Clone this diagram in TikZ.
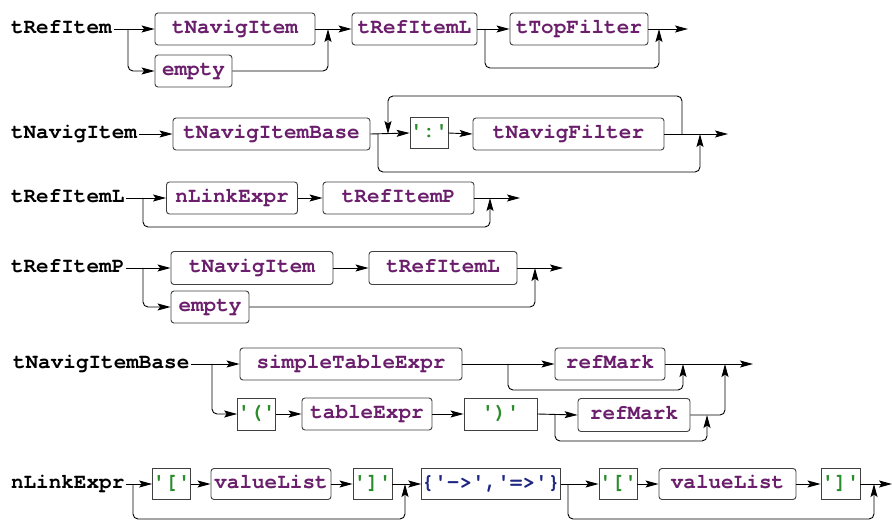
\documentclass[tikz,border=0pt]{standalone}
\usepackage{fontspec}
\newfontfamily\railfont{texgyrecursor}[Extension=.otf, UprightFont=*-regular,
  BoldFont=*-bold, Ligatures=ResetAll]
\usetikzlibrary{arrows.meta}
\definecolor{ntcol}{HTML}{6A1E6C}
\definecolor{tmcol}{HTML}{2A8C2A}
\definecolor{opcol}{HTML}{1E2882}
\definecolor{boxcol}{HTML}{404040}
\newcommand\sq{\symbol{39}}
\begin{document}
\begin{tikzpicture}[x=1pt,y=-1pt,
  every node/.style={font=\railfont\bfseries\fontsize{21}{21}\selectfont,
    inner sep=0pt, text height=13pt, text depth=4pt},
  rulelbl/.style={anchor=west, text=black, outer xsep=2pt},
  ntbox/.style={draw=boxcol, line width=0.9pt, rounded corners=3pt, fill=white,
    text=ntcol, minimum height=32pt},
  tmbox/.style={draw=boxcol, line width=0.9pt, fill=white,
    text=tmcol, minimum height=31pt},
  opbox/.style={tmbox, text=opcol},
  conn/.style={line width=0.9pt, draw=black},
  arr/.style={conn, -{Stealth[length=13pt,width=7pt,inset=2.5pt]}},
  rc/.style={rounded corners=5pt}]
\useasboundingbox (0,0) rectangle (892,521);

% ---------- tRefItem ----------
\node[rulelbl] (lRefItem) at (9,29) {tRefItem};
\node[ntbox, minimum width=160] (nNav1) at (235,29) {tNavigItem};
\node[ntbox, minimum width=77] (nEmpty1) at (193.5,71) {empty};
\node[ntbox, minimum width=125] (nRefL1) at (414.5,29) {tRefItemL};
\node[ntbox, minimum width=138] (nTop) at (579,29) {tTopFilter};
\coordinate (b1) at (128,29);
\coordinate (j1) at (328,29);
\coordinate (b2) at (485,29);
\coordinate (j2) at (659,29);
\coordinate (e1) at (688,29);
\draw[arr] (lRefItem.east) -- (nNav1.west);
\draw[arr, rc] (b1) |- (nEmpty1.west);
\draw[arr, rc] (nEmpty1.east) -| (j1);
\draw[arr] (nNav1.east) -- (nRefL1.west);
\draw[arr] (nRefL1.east) -- (nTop.west);
\draw[arr, rc] (b2) -- ++(0,39) -| (j2);
\draw[arr] (nTop.east) -- (e1);

% ---------- tNavigItem ----------
\node[rulelbl] (lNav) at (9,134) {tNavigItem};
\node[ntbox, minimum width=197] (nBase) at (271.5,134) {tNavigItemBase};
\node[tmbox, minimum width=38] (nColon) at (429,133) {\sq:\sq};
\node[ntbox, minimum width=191] (nFilt) at (568.5,134) {tNavigFilter};
\coordinate (b3) at (378,134);
\coordinate (lp2) at (388,134);
\coordinate (lp1) at (682,134);
\coordinate (j3) at (700,134);
\coordinate (e2) at (728,134);
\draw[arr] (lNav.east) -- (nBase.west);
\draw[arr] (nBase.east) -- (nColon.west);
\draw[arr] (nColon.east) -- (nFilt.west);
\draw[arr, rc] (lp1) -- ++(0,-38) -| (lp2);
\draw[arr, rc] (b3) -- ++(0,38) -| (j3);
\draw[arr] (nFilt.east) -- (e2);

% ---------- tRefItemL ----------
\node[rulelbl] (lRefL) at (9,198) {tRefItemL};
\node[ntbox, minimum width=131] (nLink) at (232,198) {nLinkExpr};
\node[ntbox, minimum width=151] (nRefP) at (398.5,198) {tRefItemP};
\coordinate (b4) at (143,198);
\coordinate (j4) at (490,198);
\coordinate (e3) at (520,198);
\draw[arr] (lRefL.east) -- (nLink.west);
\draw[arr] (nLink.east) -- (nRefP.west);
\draw[arr, rc] (b4) -- ++(0,29) -| (j4);
\draw[arr] (nRefP.east) -- (e3);

% ---------- tRefItemP ----------
\node[rulelbl] (lRefP) at (9,268) {tRefItemP};
\node[ntbox, minimum width=162, minimum height=33] (nNav2) at (252,268) {tNavigItem};
\node[ntbox, minimum width=148, minimum height=33] (nRefL2) at (443,268) {tRefItemL};
\node[ntbox, minimum width=78] (nEmpty2) at (210,307) {empty};
\coordinate (b5) at (143,268);
\coordinate (j5) at (535,268);
\coordinate (e4) at (563,268);
\draw[arr] (lRefP.east) -- (nNav2.west);
\draw[arr, rc] (b5) |- (nEmpty2.west);
\draw[arr] (nNav2.east) -- (nRefL2.west);
\draw[arr, rc] (nEmpty2.east) -| (j5);
\draw[arr] (nRefL2.east) -- (e4);

% ---------- tNavigItemBase ----------
\node[rulelbl] (lBase) at (11,364) {tNavigItemBase};
\node[ntbox, minimum width=222] (nSimple) at (351,364) {simpleTableExpr};
\node[ntbox, minimum width=110] (nMark1) at (610,364) {refMark};
\node[tmbox, minimum width=33, minimum height=32] (nLp) at (256.5,414) {\sq(\sq};
\node[ntbox, minimum width=130] (nTab) at (367,414) {tableExpr};
\node[tmbox, minimum width=73, minimum height=32] (nRp) at (500.5,414) {\sq)\sq};
\node[ntbox, minimum width=112, minimum height=33] (nMark2) at (634,415) {refMark};
\coordinate (b6) at (212,364);
\coordinate (b7) at (508,364);
\coordinate (j7) at (683,364);
\coordinate (j6) at (725,364);
\coordinate (e5) at (753,364);
\coordinate (b8) at (555,415);
\coordinate (j8) at (707,415);
\draw[arr] (lBase.east) -- (nSimple.west);
\draw[arr, rc] (b6) |- (nLp.west);
\draw[arr] (nSimple.east) -- (nMark1.west);
\draw[arr, rc] (b7) -- ++(0,26) -| (j7);
\draw[arr] (nMark1.east) -- (e5);
\draw[arr] (nLp.east) -- (nTab.west);
\draw[arr] (nTab.east) -- (nRp.west);
\draw[arr] (nRp.east) -- (nMark2.west);
\draw[arr, rc] (b8) -- ++(0,26) -| (j8);
\draw[arr, rc] (nMark2.east) -| (j6);

% ---------- nLinkExpr ----------
\node[rulelbl] (lLink) at (9,484) {nLinkExpr};
\node[tmbox, minimum width=37] (nLb1) at (171.5,484) {\sq[\sq};
\node[ntbox, minimum width=120, minimum height=31] (nVal1) at (271,484) {valueList};
\node[tmbox, minimum width=39] (nRb1) at (372.5,484) {\sq]\sq};
\node[opbox, minimum width=138] (nArrow) at (491,484) {\{\sq->\sq,\sq=>\sq\}};
\node[tmbox, minimum width=38] (nLb2) at (618,484) {\sq[\sq};
\node[ntbox, minimum width=137, minimum height=31] (nVal2) at (727.5,484) {valueList};
\node[tmbox, minimum width=39] (nRb2) at (840.5,484) {\sq]\sq};
\coordinate (b9) at (133,484);
\coordinate (j9) at (405,484);
\coordinate (b10) at (568,484);
\coordinate (j10) at (874,484);
\coordinate (e6) at (892,484);
\draw[arr] (lLink.east) -- (nLb1.west);
\draw[arr] (nLb1.east) -- (nVal1.west);
\draw[arr] (nVal1.east) -- (nRb1.west);
\draw[arr] (nRb1.east) -- (nArrow.west);
\draw[arr, rc] (b9) -- ++(0,35) -| (j9);
\draw[arr] (nArrow.east) -- (nLb2.west);
\draw[arr] (nLb2.east) -- (nVal2.west);
\draw[arr] (nVal2.east) -- (nRb2.west);
\draw[arr, rc] (b10) -- ++(0,35) -| (j10);
\draw[arr] (nRb2.east) -- (e6);
\end{tikzpicture}
\end{document}
